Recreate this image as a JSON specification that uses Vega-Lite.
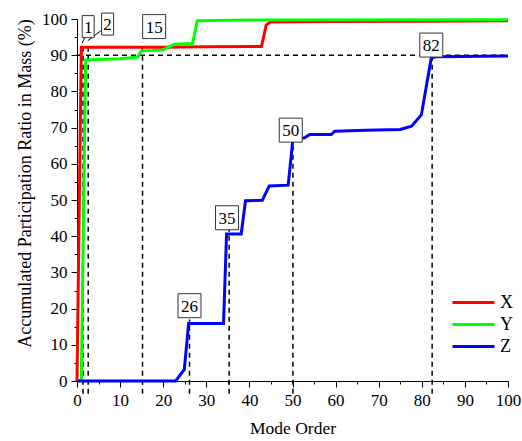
{
  "$schema": "https://vega.github.io/schema/vega-lite/v6.json",
  "width": 431,
  "height": 362,
  "autosize": {"type": "none"},
  "padding": {"left": 77, "top": 19, "right": 14, "bottom": 60},
  "background": "white",
  "config": {
    "font": "Liberation Serif",
    "view": {"stroke": null},
    "axis": {
      "domainColor": "black",
      "tickColor": "black",
      "labelColor": "black",
      "titleColor": "black",
      "labelFont": "Liberation Serif",
      "titleFont": "Liberation Serif",
      "labelFontSize": 17,
      "titleFontWeight": "normal",
      "labelOverlap": false,
      "labelFlush": false,
      "grid": false
    },
    "legend": {
      "labelFont": "Liberation Serif"
    }
  },
  "datasets": {
    "curves": [
      {"series": "X", "mode": 0, "ratio": 0},
      {"series": "X", "mode": 1, "ratio": 92.2},
      {"series": "X", "mode": 10, "ratio": 92.2},
      {"series": "X", "mode": 20, "ratio": 92.2},
      {"series": "X", "mode": 30, "ratio": 92.3},
      {"series": "X", "mode": 42.8, "ratio": 92.4},
      {"series": "X", "mode": 43.9, "ratio": 98.3},
      {"series": "X", "mode": 44.9, "ratio": 99.2},
      {"series": "X", "mode": 60, "ratio": 99.3},
      {"series": "X", "mode": 80, "ratio": 99.4},
      {"series": "X", "mode": 100, "ratio": 99.5},
      {"series": "Y", "mode": 0, "ratio": 0},
      {"series": "Y", "mode": 1, "ratio": 0.3},
      {"series": "Y", "mode": 2, "ratio": 88.7},
      {"series": "Y", "mode": 10, "ratio": 89.0},
      {"series": "Y", "mode": 14.1, "ratio": 89.5},
      {"series": "Y", "mode": 14.9, "ratio": 91.2},
      {"series": "Y", "mode": 19.8, "ratio": 91.4},
      {"series": "Y", "mode": 22.6, "ratio": 93.0},
      {"series": "Y", "mode": 26.8, "ratio": 93.2},
      {"series": "Y", "mode": 27.9, "ratio": 99.5},
      {"series": "Y", "mode": 40, "ratio": 99.7},
      {"series": "Y", "mode": 100, "ratio": 99.8},
      {"series": "Z", "mode": 0, "ratio": 0},
      {"series": "Z", "mode": 22.9, "ratio": 0},
      {"series": "Z", "mode": 24.9, "ratio": 3.2},
      {"series": "Z", "mode": 25.9, "ratio": 15.9},
      {"series": "Z", "mode": 34.0, "ratio": 15.9},
      {"series": "Z", "mode": 34.7, "ratio": 40.6},
      {"series": "Z", "mode": 38.1, "ratio": 40.6},
      {"series": "Z", "mode": 39.1, "ratio": 49.8},
      {"series": "Z", "mode": 43.0, "ratio": 49.9},
      {"series": "Z", "mode": 44.6, "ratio": 53.9},
      {"series": "Z", "mode": 49.0, "ratio": 54.1},
      {"series": "Z", "mode": 50.1, "ratio": 66.8},
      {"series": "Z", "mode": 52.8, "ratio": 67.2},
      {"series": "Z", "mode": 54.0, "ratio": 68.1},
      {"series": "Z", "mode": 59.0, "ratio": 68.1},
      {"series": "Z", "mode": 59.8, "ratio": 69.0},
      {"series": "Z", "mode": 67.0, "ratio": 69.3},
      {"series": "Z", "mode": 75.0, "ratio": 69.5},
      {"series": "Z", "mode": 77.6, "ratio": 70.4},
      {"series": "Z", "mode": 79.9, "ratio": 73.5},
      {"series": "Z", "mode": 82.2, "ratio": 89.3},
      {"series": "Z", "mode": 83.5, "ratio": 89.6},
      {"series": "Z", "mode": 100, "ratio": 89.8}
    ],
    "verticals": [
      {"mode": 1.4, "ratio": -3.5, "ratio2": 92},
      {"mode": 2.6, "ratio": -3.5, "ratio2": 93},
      {"mode": 15.2, "ratio": -3.5, "ratio2": 93.5},
      {"mode": 26.1, "ratio": -3.5, "ratio2": 17},
      {"mode": 35.3, "ratio": -3.5, "ratio2": 42},
      {"mode": 50.1, "ratio": -3.5, "ratio2": 66},
      {"mode": 82.4, "ratio": -3.5, "ratio2": 90}
    ],
    "horizontal": [
      {"mode": 0, "mode2": 100, "ratio": 90}
    ],
    "pointers": [
      {"mode": 2.4, "ratio": 96.5, "mode2": 1.2, "ratio2": 93.3},
      {"mode": 5.7, "ratio": 96.9, "mode2": 2.5, "ratio2": 94.0}
    ],
    "labels": [
      {"label": "1", "mode": 2.6, "ratio": 97.9},
      {"label": "2", "mode": 7.1, "ratio": 98.6},
      {"label": "15", "mode": 17.9, "ratio": 97.9},
      {"label": "26", "mode": 26.1, "ratio": 20.8},
      {"label": "35", "mode": 34.8, "ratio": 45.1},
      {"label": "50", "mode": 49.6, "ratio": 69.3},
      {"label": "82", "mode": 82.2, "ratio": 92.8}
    ]
  },
  "encoding": {
    "x": {
      "field": "mode", "type": "quantitative",
      "scale": {"domain": [0, 100], "nice": false},
      "axis": {
        "title": "Mode Order",
        "titleFont": "Liberation Serif",
        "titleFontSize": 17.5,
        "titleY": 52,
        "titleBaseline": "alphabetic",
        "labelFont": "Liberation Serif",
        "values": [0,5,10,15,20,25,30,35,40,45,50,55,60,65,70,75,80,85,90,95,100],
        "labelExpr": "datum.value % 10 === 0 ? datum.label : ''",
        "tickSize": {"condition": {"test": "datum.value % 10 === 0", "value": 6}, "value": 3},
        "labelPadding": 5
      }
    },
    "y": {
      "field": "ratio", "type": "quantitative",
      "scale": {"domain": [0, 100], "nice": false},
      "axis": {
        "title": "Accumulated Participation Ratio in Mass  (%)",
        "titleFont": "Liberation Serif",
        "titleFontSize": 18,
        "titleX": -47,
        "titleY": 164,
        "titleBaseline": "alphabetic",
        "labelFont": "Liberation Serif",
        "values": [0,5,10,15,20,25,30,35,40,45,50,55,60,65,70,75,80,85,90,95,100],
        "labelExpr": "datum.value % 10 === 0 ? datum.label : ''",
        "tickSize": {"condition": {"test": "datum.value % 10 === 0", "value": 6}, "value": 3},
        "labelPadding": 4
      }
    }
  },
  "layer": [
    {
      "data": {"name": "verticals"},
      "mark": {"type": "rule", "color": "black", "strokeWidth": 1.5, "strokeDash": [5, 4]},
      "encoding": {
        "y2": {"field": "ratio2"}
      }
    },
    {
      "data": {"name": "horizontal"},
      "mark": {"type": "rule", "color": "black", "strokeWidth": 1.5, "strokeDash": [5, 4]},
      "encoding": {
        "x2": {"field": "mode2"}
      }
    },
    {
      "data": {"name": "curves"},
      "mark": {"type": "line", "strokeWidth": 3},
      "encoding": {
        "color": {
          "field": "series", "type": "nominal",
          "scale": {"domain": ["X", "Y", "Z"], "range": ["#ff0000", "#00ff00", "#0000ff"]},
          "legend": {
            "title": null,
            "orient": "none",
            "legendX": 374,
            "legendY": 272.5,
            "symbolType": "stroke",
            "symbolSize": 1764,
            "symbolStrokeWidth": 3,
            "clipHeight": 22,
            "rowPadding": 0,
            "labelFont": "Liberation Serif",
            "labelFontSize": 18,
            "labelColor": "black",
            "labelOffset": 4
          }
        }
      }
    },
    {
      "data": {"name": "pointers"},
      "mark": {"type": "rule", "color": "black", "strokeWidth": 1},
      "encoding": {
        "x2": {"field": "mode2"},
        "y2": {"field": "ratio2"}
      }
    },
    {
      "data": {"name": "labels"},
      "transform": [{"filter": "length(datum.label) === 1"}],
      "mark": {"type": "point", "shape": "M-0.545,-1H0.545V1H-0.545Z", "size": 484, "filled": true, "fill": "white", "stroke": "#333333", "strokeWidth": 1, "opacity": 1}
    },
    {
      "data": {"name": "labels"},
      "transform": [{"filter": "length(datum.label) === 2"}],
      "mark": {"type": "point", "shape": "M-0.958,-1H0.958V1H-0.958Z", "size": 576, "filled": true, "fill": "white", "stroke": "#333333", "strokeWidth": 1, "opacity": 1}
    },
    {
      "data": {"name": "labels"},
      "mark": {"type": "text", "font": "Liberation Serif", "fontSize": 17, "color": "black", "align": "center", "baseline": "middle", "dy": 1},
      "encoding": {
        "text": {"field": "label", "type": "nominal"}
      }
    }
  ]
}
